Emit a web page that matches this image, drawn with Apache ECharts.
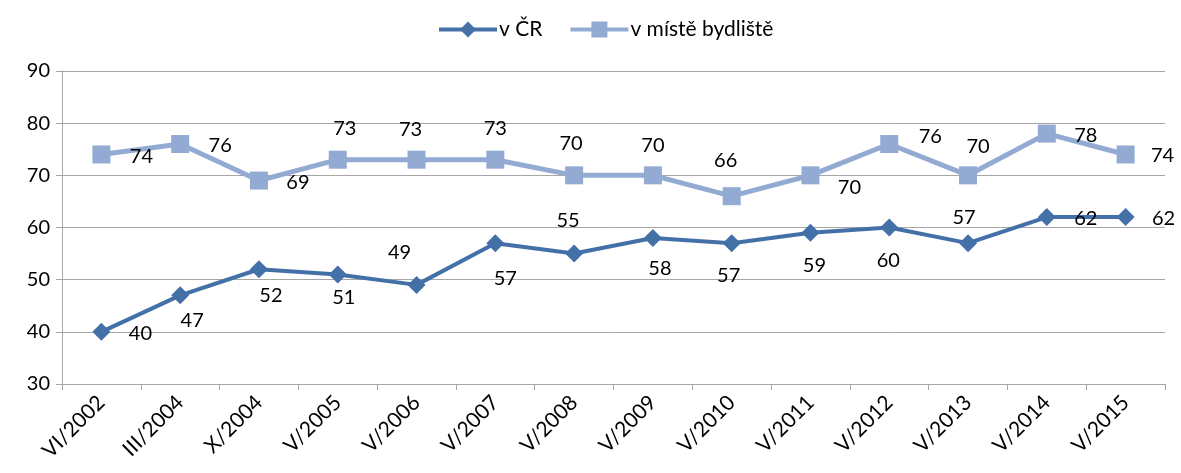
<!DOCTYPE html>
<html>
<head>
<meta charset="utf-8">
<script src="https://cdn.jsdelivr.net/npm/echarts@6/dist/echarts.min.js"></script>
<style>
  html, body { margin: 0; padding: 0; background: #fff; }
  #chart { width: 1181px; height: 473px; }
</style>
</head>
<body>
<div id="chart"></div>
<script>
// kategorie (termíny šetření)
var categories = ["VI/2002", "III/2004", "X/2004", "V/2005", "V/2006", "V/2007", "V/2008",
  "V/2009", "V/2010", "V/2011", "V/2012", "V/2013", "V/2014", "V/2015"];
// v ČR
var valuesCR = [40, 47, 52, 51, 49, 57, 55, 58, 57, 59, 60, 57, 62, 62];
// v místě bydliště
var valuesLocal = [74, 76, 69, 73, 73, 73, 70, 70, 66, 70, 76, 70, 78, 74];

// posuny popisků (ručně rozmístěné jako v Excelu)
var offsetsCR = [[39, 2], [12, 25], [12, 26], [6, 23], [-17, -32], [10, 35], [-6, -33],
  [7, 31], [-3, 32], [4, 33], [-1, 33], [-4, -26], [39, 1], [38, 1]];
var offsetsLocal = [[40, 2], [40, 2], [39, 2], [7, -31], [-6, -30], [0, -31], [-3, -32],
  [0, -30], [-6, -36], [39, 12], [41, -7], [10, -29], [39, 2], [37, 1]];

function withLabels(values, offsets) {
  return values.map(function (v, i) {
    return { value: v, label: { offset: offsets[i] } };
  });
}

var font = "Lato, 'Open Sans', sans-serif";
var chart = echarts.init(document.getElementById("chart"));
chart.setOption({
  animation: false,
  textStyle: { fontFamily: font },
  legend: {
    top: 14,
    left: 432,
    itemWidth: 58,
    itemHeight: 20,
    itemGap: 26,
    lineStyle: { width: 4 },
    textStyle: { fontSize: 21, color: "#000", fontFamily: font, padding: [0, 0, 0, -3] },
    data: ["v ČR", "v místě bydliště"]
  },
  grid: { left: 62, right: 16, top: 71, bottom: 89 },
  xAxis: {
    type: "category",
    data: categories,
    boundaryGap: true,
    axisLine: { lineStyle: { color: "#a6a6a6", width: 1 } },
    axisTick: { show: true, length: 6, lineStyle: { color: "#a6a6a6" } },
    axisLabel: { interval: 0, rotate: 45, fontSize: 21, color: "#000", fontFamily: font, margin: 15 }
  },
  yAxis: {
    type: "value",
    min: 30,
    max: 90,
    interval: 10,
    axisLine: { show: true, lineStyle: { color: "#a6a6a6", width: 1 } },
    axisTick: { show: true, length: 6, lineStyle: { color: "#a6a6a6" } },
    axisLabel: { fontSize: 20, color: "#000", fontFamily: font, margin: 12 },
    splitLine: { lineStyle: { color: "#a6a6a6", width: 1 } }
  },
  series: [
    {
      name: "v ČR",
      type: "line",
      data: withLabels(valuesCR, offsetsCR),
      symbol: "diamond",
      symbolSize: 18,
      itemStyle: { color: "#4470a8" },
      lineStyle: { color: "#4470a8", width: 4 },
      label: { show: true, position: "inside", fontSize: 20, color: "#000", fontFamily: font }
    },
    {
      name: "v místě bydliště",
      type: "line",
      data: withLabels(valuesLocal, offsetsLocal),
      symbol: "rect",
      symbolSize: 18,
      itemStyle: { color: "#93abd3" },
      lineStyle: { color: "#93abd3", width: 5 },
      label: { show: true, position: "inside", fontSize: 20, color: "#000", fontFamily: font }
    }
  ]
});
</script>
</body>
</html>
